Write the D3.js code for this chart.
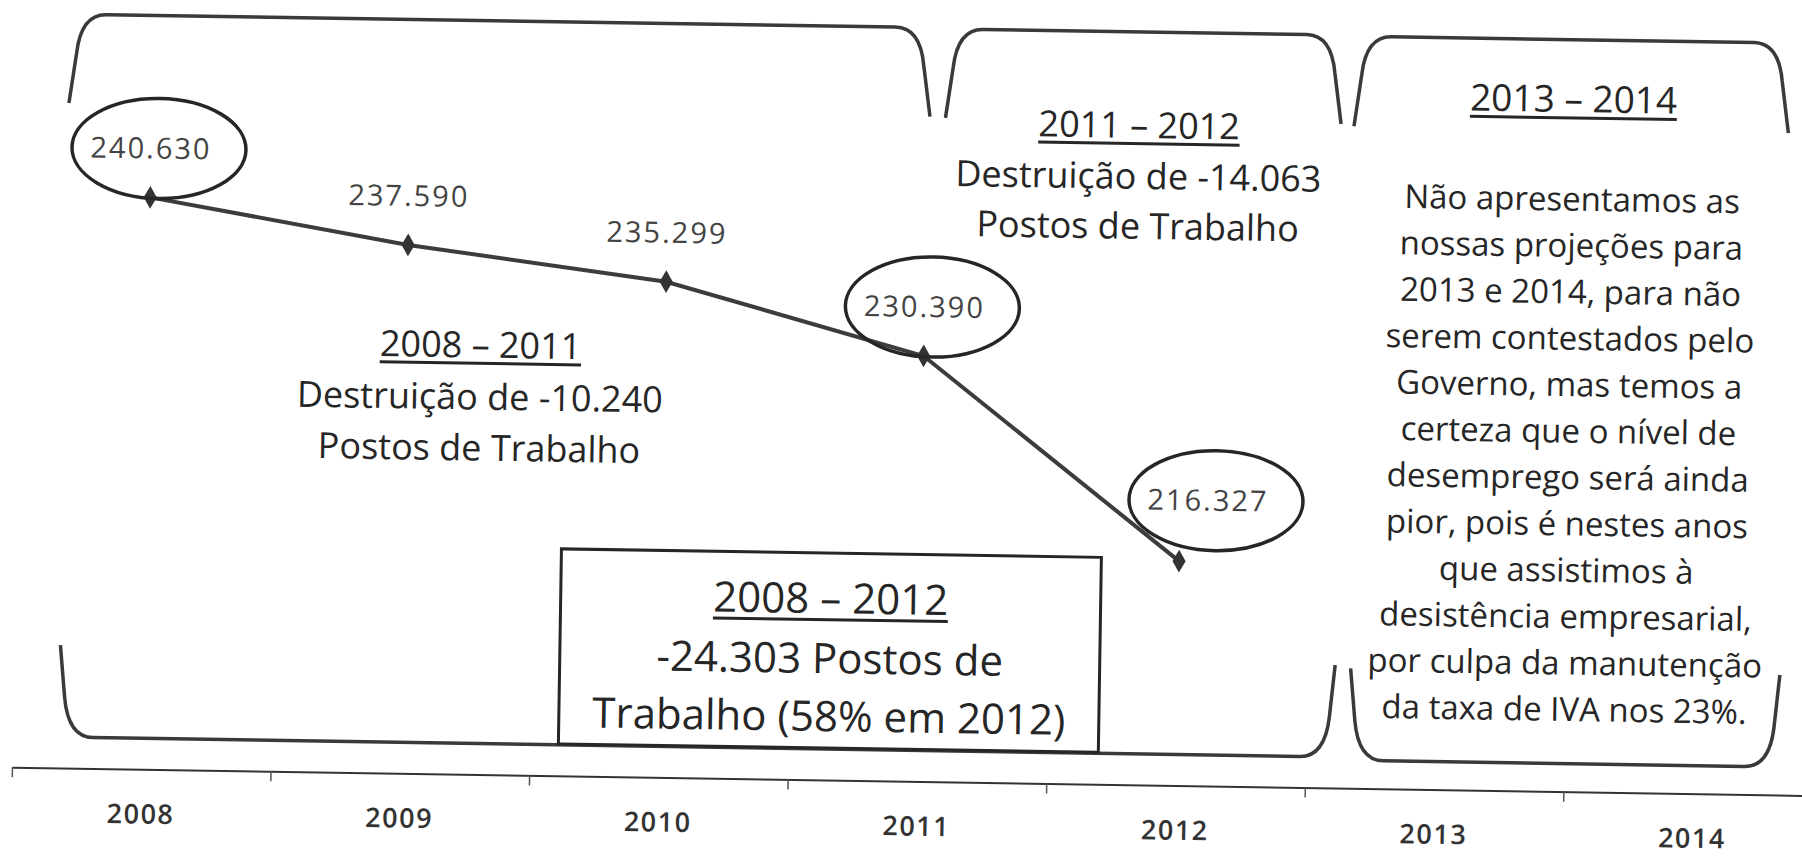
<!DOCTYPE html>
<html>
<head>
<meta charset="utf-8">
<script src="https://cdn.jsdelivr.net/npm/d3@7"></script>
<style>
  body { margin: 0; background: #fff; }
  svg { display: block; }
  text { font-family: "Open Sans", sans-serif; }
</style>
</head>
<body>
<svg id="chart" width="1802" height="857"></svg>
<script>
// data
const years = ["2008", "2009", "2010", "2011", "2012", "2013", "2014"];
const postosYears = ["2008", "2009", "2010", "2011", "2012"];
const postos = [240630, 237590, 235299, 230390, 216327];
const postosLabels = ["240.630", "237.590", "235.299", "230.390", "216.327"];
const circledYears = ["2008", "2011", "2012"];

const leftTitle = "2008 – 2011";
const leftLines = ["Destruição de -10.240", "Postos de Trabalho"];
const midTitle = "2011 – 2012";
const midLines = ["Destruição de -14.063", "Postos de Trabalho"];
const rightTitle = "2013 – 2014";
const rightLines = [
  "Não apresentamos as", "nossas projeções para", "2013 e 2014, para não",
  "serem contestados pelo", "Governo, mas temos a", "certeza que o nível de",
  "desemprego será ainda", "pior, pois é nestes anos", "que assistimos à",
  "desistência empresarial,", "por culpa da manutenção", "da taxa de IVA nos 23%."
];
const boxTitle = "2008 – 2012";
const boxLines = ["-24.303 Postos de", "Trabalho (58% em 2012)"];

const svg = d3.select("#chart");
// the scanned page is a little tilted
const g = svg.append("g").attr("transform", "rotate(0.9)");

const x = d3.scaleBand()
  .domain(years)
  .range([24, 24 + 7 * 258.6])
  .padding(0);

// position in "band units" (0 = start of 2008, 7 = end of 2014)
const u = d3.scaleLinear().domain([0, 7]).range(x.range());

const y = d3.scaleLinear()
  .domain([210000, 245000])
  .range([633, 132.5]);

const axisY = 767;
const ink = "#262626";

// brackets
function bracketTop(x0, x1, top, bottom){
  return `M${x0},${bottom} L${x0 + 7},${top + 38} Q${x0 + 11},${top} ${x0 + 36},${top}
          L${x1 - 36},${top} Q${x1 - 11},${top} ${x1 - 7},${top + 38} L${x1},${bottom}`;
}
function bracketBottom(x0, x1, top, bottom){
  return `M${x0},${top} L${x0 + 5},${bottom - 40} Q${x0 + 9},${bottom} ${x0 + 34},${bottom}
          L${x1 - 34},${bottom} Q${x1 - 9},${bottom} ${x1 - 5},${bottom - 40} L${x1},${top}`;
}

const topBrackets = [[0.18, 3.51, 13, 102], [3.57, 5.10, 14, 103], [5.15, 6.83, 15, 105]];
const bottomBrackets = [[0.18, 5.11, 644, 736], [5.17, 6.83, 647, 739]];

g.selectAll(".btop")
  .data(topBrackets)
  .enter()
  .append("path")
  .attr("d", d => bracketTop(u(d[0]), u(d[1]), d[2], d[3]))
  .attr("fill", "none")
  .attr("stroke", "#3a3a3a")
  .attr("stroke-width", 3.5);

g.selectAll(".bbot")
  .data(bottomBrackets)
  .enter()
  .append("path")
  .attr("d", d => bracketBottom(u(d[0]), u(d[1]), d[2], d[3]))
  .attr("fill", "none")
  .attr("stroke", "#3a3a3a")
  .attr("stroke-width", 3.5);

// box 2008 - 2012
g.append("rect")
  .attr("x", 570)
  .attr("y", 540)
  .attr("width", 540)
  .attr("height", 195)
  .attr("fill", "#fff")
  .attr("stroke", ink)
  .attr("stroke-width", 3);

// axis
const tickAxis = g.append("g")
  .attr("transform", `translate(0,${axisY})`)
  .call(d3.axisBottom(u).tickValues(d3.range(0, 8)).tickFormat("").tickSize(10).tickSizeOuter(0));
tickAxis.select(".domain").attr("stroke", "#333").attr("stroke-width", 2);
tickAxis.selectAll(".tick line").attr("stroke", "#555").attr("stroke-width", 1.5);

const yearAxis = g.append("g")
  .attr("transform", `translate(0,${axisY})`)
  .call(d3.axisBottom(x).tickSize(0));
yearAxis.select(".domain").remove();
yearAxis.selectAll("text")
  .attr("y", 35)
  .attr("dy", "0.71em")
  .style("font-family", "'Open Sans', sans-serif")
  .style("font-size", "27px")
  .style("font-weight", 600)
  .style("letter-spacing", "1.5px")
  .style("fill", "#333");

// line
const pts = postos.map((v, i) => ({ year: postosYears[i], value: v, label: postosLabels[i] }));
const cx = d => x(d.year) + x.bandwidth() / 2;

g.append("path")
  .datum(pts)
  .attr("d", d3.line().x(cx).y(d => y(d.value)))
  .attr("fill", "none")
  .attr("stroke", "#3c3c3c")
  .attr("stroke-width", 4);

g.selectAll(".marker")
  .data(pts)
  .enter()
  .append("path")
  .attr("d", d3.symbol(d3.symbolDiamond, 150))
  .attr("transform", d => `translate(${cx(d)},${y(d.value)})`)
  .attr("fill", "#333");

// value labels
const labelX = (d, i) => cx(d) + (i === pts.length - 1 ? 28 : 0);
const labelY = (d, i) => y(d.value) - (i === pts.length - 1 ? 61 : 49);

g.selectAll(".ring")
  .data(pts.filter(d => circledYears.includes(d.year)))
  .enter()
  .append("ellipse")
  .attr("cx", d => labelX(d, pts.indexOf(d)) + 8)
  .attr("cy", d => labelY(d, pts.indexOf(d)))
  .attr("rx", 87)
  .attr("ry", 50)
  .attr("fill", "none")
  .attr("stroke", ink)
  .attr("stroke-width", 3.5);

g.selectAll(".vlabel")
  .data(pts)
  .enter()
  .append("text")
  .attr("x", labelX)
  .attr("y", (d, i) => labelY(d, i) + 10)
  .attr("text-anchor", "middle")
  .style("font-size", "29px")
  .style("letter-spacing", "2px")
  .style("fill", "#444")
  .text(d => d.label);

// annotation blocks
function block(cxPos, titleY, title, lines, titleSize, size, lineYs){
  const t = g.append("text")
    .attr("x", cxPos)
    .attr("y", titleY + titleSize * 0.36)
    .attr("text-anchor", "middle")
    .style("font-size", titleSize + "px")
    .style("fill", ink)
    .text(title);
  const bb = t.node().getBBox();
  g.append("rect")
    .attr("x", bb.x)
    .attr("y", titleY + titleSize * 0.36 + titleSize * 0.12)
    .attr("width", bb.width)
    .attr("height", 3)
    .attr("fill", ink);
  lines.forEach((line, i) => {
    g.append("text")
      .attr("x", cxPos)
      .attr("y", lineYs[i] + size * 0.36)
      .attr("text-anchor", "middle")
      .style("font-size", size + "px")
      .style("fill", ink)
      .text(line);
  });
}

block(486, 337, leftTitle, leftLines, 36, 36, [389, 440]);
block(1141, 107, midTitle, midLines, 36, 36, [158, 208]);
block(1575, 74, rightTitle, rightLines, 37, 33, rightLines.map((d, i) => 174 + i * 46.4));
block(840, 585, boxTitle, boxLines, 42, 42, [645, 703]);
</script>
</body>
</html>
